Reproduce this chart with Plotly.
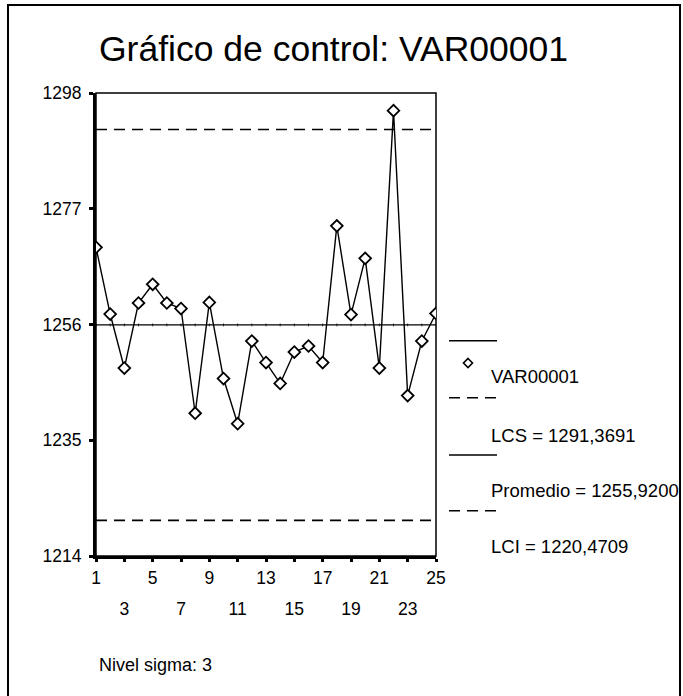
import plotly.graph_objects as go

# datos
muestras = list(range(1, 26))
valores = [1270.0, 1257.9, 1248.1, 1259.9, 1263.3, 1259.9, 1258.9, 1239.9, 1260.0, 1246.2,
           1238.0, 1253.0, 1249.1, 1245.3, 1251.0, 1252.1, 1249.1, 1273.9, 1257.8, 1268.0,
           1248.1, 1294.8, 1243.1, 1253.0, 1258.0]
promedio = 1255.9200
lcs = 1291.3691
lci = 1220.4709
y_ticks = [1214, 1235, 1256, 1277, 1298]
x_ticks_fila1 = [1, 5, 9, 13, 17, 21, 25]
x_ticks_fila2 = [3, 7, 11, 15, 19, 23]

FONT = "Liberation Sans, Arial, sans-serif"
W, H = 683, 696
PL, PR, PT, PB = 96, 436, 93, 556


def px(x):
    return (x - PL) / (PR - PL)


def py(y):
    return (PB - y) / (PB - PT)


fig = go.Figure()

n = len(muestras)
fig.add_trace(go.Scatter(x=[muestras[0], muestras[-1]], y=[lcs, lcs], mode="lines",
                         line=dict(color="black", width=1.6, dash="11px,7px"), hoverinfo="skip"))
fig.add_trace(go.Scatter(x=[muestras[0], muestras[-1]], y=[lci, lci], mode="lines",
                         line=dict(color="black", width=1.6, dash="11px,7px"), hoverinfo="skip"))
fig.add_trace(go.Scatter(x=[muestras[0], muestras[-1]], y=[promedio, promedio], mode="lines",
                         line=dict(color="black", width=1.3), hoverinfo="skip"))
# marquitas sobre la linea central
fig.add_trace(go.Scatter(x=muestras, y=[promedio] * n, mode="markers", xaxis="x2",
                         marker=dict(symbol="line-ns", size=2, line=dict(color="black", width=0.8)),
                         hoverinfo="skip"))
fig.add_trace(go.Scatter(x=muestras, y=valores, mode="lines+markers", name="VAR00001",
                         line=dict(color="black", width=1.4),
                         marker=dict(symbol="diamond", size=9, color="white",
                                     line=dict(color="black", width=1.8))))

shapes = [
    # borde del area de trazado
    dict(type="rect", xref="paper", yref="paper", x0=0, y0=0, x1=1, y1=1,
         line=dict(color="black", width=1.5), layer="below"),
    # marco exterior
    dict(type="line", xref="paper", yref="paper", x0=px(8), x1=px(8), y0=py(5), y1=py(700),
         line=dict(color="black", width=2)),
    dict(type="line", xref="paper", yref="paper", x0=px(7), x1=px(681), y0=py(5), y1=py(5),
         line=dict(color="black", width=2)),
    dict(type="line", xref="paper", yref="paper", x0=px(680), x1=px(680), y0=py(5), y1=py(700),
         line=dict(color="black", width=2)),
]

# leyenda dibujada a mano, como en SPSS
leyenda = [(340.7, None), (397.7, "11px,7px"), (455, None), (510.7, "11px,7px")]
for y, dash in leyenda:
    shapes.append(dict(type="line", xref="paper", yref="paper", x0=px(449), x1=px(497),
                       y0=py(y), y1=py(y), line=dict(color="black", width=1.5, dash=dash or "solid")))
cx, cy, r = 468, 363, 4.5
shapes.append(dict(type="path", xref="paper", yref="paper",
                   path=f"M {px(cx)} {py(cy - r)} L {px(cx + r)} {py(cy)} L {px(cx)} {py(cy + r)} "
                        f"L {px(cx - r)} {py(cy)} Z",
                   line=dict(color="black", width=1.6), fillcolor="white"))

textos = [("VAR00001", 376.7), ("LCS = 1291,3691", 435),
          ("Promedio = 1255,9200", 490), ("LCI = 1220,4709", 546.7)]
annotations = []
for t, y in textos:
    annotations.append(dict(text=t, xref="paper", yref="paper", x=px(489), y=py(y),
                            xanchor="left", yanchor="middle", showarrow=False,
                            font=dict(family=FONT, size=18.5, color="black")))
annotations.append(dict(text="Nivel sigma: 3", xref="paper", yref="paper", x=px(97), y=py(665),
                        xanchor="left", yanchor="middle", showarrow=False,
                        font=dict(family=FONT, size=18, color="black")))
annotations.append(dict(text="Gráfico de control: VAR00001", xref="paper", yref="paper",
                        x=px(333), y=py(49), xanchor="center", yanchor="middle", showarrow=False,
                        font=dict(family=FONT, size=35.5, color="black")))

fig.update_layout(
    width=W, height=H,
    margin=dict(l=PL, r=W - PR, t=PT, b=H - PB, pad=0),
    paper_bgcolor="white", plot_bgcolor="white",
    showlegend=False,
    font=dict(family=FONT, size=17, color="black"),
    shapes=shapes, annotations=annotations,
    xaxis=dict(range=[1, 25], tickvals=muestras[::2],
               ticktext=[str(v) if v in x_ticks_fila1 else "" for v in muestras[::2]],
               ticks="outside", ticklen=3, tickwidth=3, tickcolor="black",
               showline=True, linewidth=3, linecolor="black", showgrid=False, zeroline=False,
               ticklabelstandoff=1, tickfont=dict(size=17.5)),
    xaxis2=dict(range=[1, 25], overlaying="x", anchor="y", side="bottom",
                tickvals=x_ticks_fila2, ticks="", showline=False, showgrid=False, zeroline=False,
                ticklabelstandoff=40, tickfont=dict(size=17.5)),
    yaxis=dict(range=[1214, 1298], tickvals=y_ticks, ticks="outside", ticklen=4, tickwidth=3,
               tickcolor="black", showline=True, linewidth=3, linecolor="black",
               showgrid=False, zeroline=False, ticklabelstandoff=4, tickfont=dict(size=17.5)),
)

# sin el margen de 8px del body, sin barra de herramientas
fig.write_html("out.html", config={"displayModeBar": False},
               post_script="document.body.style.margin='0px';")
